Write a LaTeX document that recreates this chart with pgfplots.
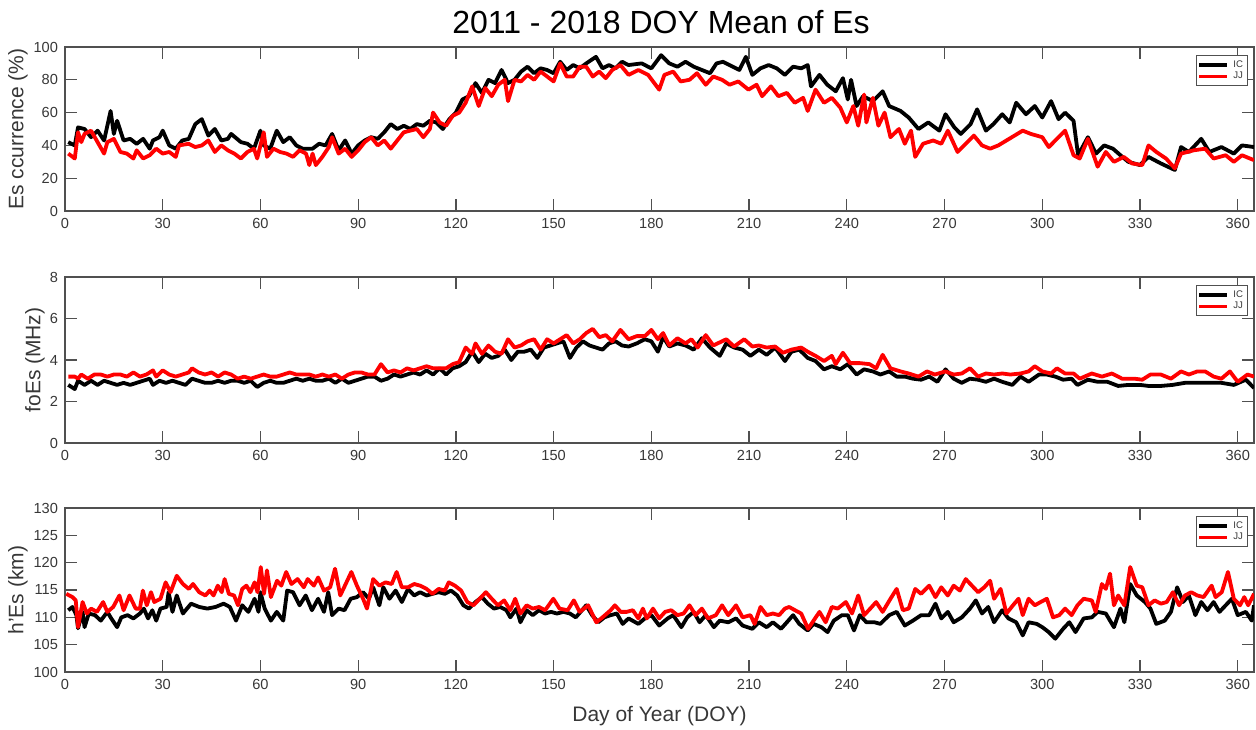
\documentclass[border=0pt]{standalone}
\usepackage{fontspec}
\setmainfont{Liberation Sans}
\usepackage{pgfplots}
\pgfplotsset{compat=1.18}
\definecolor{axgray}{RGB}{80,80,80}
\definecolor{txgray}{RGB}{55,55,55}
\pgfplotsset{
  esaxis/.style={
    scale only axis,
    width=594.5pt,
    xmin=0, xmax=365,
    xtick={0,30,...,360},
    tick align=inside,
    tick pos=both,
    major tick length=6pt,
    axis line style={axgray, line width=0.6pt},
    every tick/.style={axgray, line width=0.6pt},
    tick label style={font=\fontsize{7.3}{8}\selectfont, text=txgray},
    /pgf/number format/assume math mode=true,
    /pgf/number format/1000 sep={},
    label style={font=\fontsize{10.5}{12}\selectfont, text=txgray},
    legend style={at={(rel axis cs:0.995,0.95)}, anchor=north east,
      font=\fontsize{4.8}{5}\selectfont, draw=axgray, line width=0.5pt,
      inner sep=0.3pt, row sep=-3.2pt, text=txgray},
    legend cell align=left,
    legend image code/.code={\draw[#1, line width=1.9pt] (0pt,0pt) -- (14pt,0pt);},
    every axis plot/.append style={line width=1.9pt, line join=round},
  }
}
\begin{document}
\begin{tikzpicture}
\path[use as bounding box] (0,0) rectangle (628pt,-364.5pt);
\node[font=\fontsize{16}{18}\selectfont, anchor=center] at (330.5pt,-11pt) {2011 - 2018 DOY Mean of Es};
% ---------------- Panel 1 ----------------
\begin{axis}[esaxis, at={(32.5pt,-23.5pt)}, anchor=north west, height=82pt,
  ymin=0, ymax=100, ytick={0,20,...,100},
  ylabel={Es ccurrence (\%)},
  ylabel style={at={(rel axis cs:-0.0395,0.5)}, anchor=center}]
\addplot[black] coordinates {(1,42)(3,40)(4,51)(6,50)(8,45)(10,49)(12,43)(14,61)(15,47)(16,55)(18,43)(20,44)(22,41)(24,44)(26,38)(27,43)(29,45)(30,49)(32,40)(34,38)(36,43)(38,44)(40,53)(42,56)(44,46)(46,50)(48,43)(50,44)(51,47)(54,42)(56,41)(58,38)(60,49)(61,40)(63,38)(65,49)(67,42)(69,45)(71,40)(73,38)(76,38)(78,41)(80,40)(82,47)(84,37)(86,43)(88,35)(90,40)(92,43)(94,45)(96,44)(98,48)(100,53)(102,50)(104,52)(106,50)(108,53)(110,52)(112,55)(114,54)(116,50)(118,56)(120,60)(122,68)(124,70)(126,78)(128,72)(130,80)(132,78)(134,86)(136,78)(138,80)(140,85)(142,88)(144,84)(146,87)(148,86)(150,84)(152,91)(154,86)(156,89)(158,87)(160,90)(163,94)(165,87)(167,89)(169,87)(171,91)(173,89)(177,90)(180,87)(183,95)(185.5,90)(188,88)(190.5,91)(193,88)(195.5,86)(198,84)(200,90)(202,91)(204,89)(207,86)(209,94)(211,83)(213.5,87)(216,89)(218.5,87)(221,83)(223.5,88)(226,87)(228,89)(229,76)(231.6,83)(234,77)(236.6,73)(238.8,81)(240.3,68)(241.3,80)(243,64)(245,70)(248,67)(251,73)(253,64)(256.5,61)(259,57)(262,50)(265,54)(268.4,49)(270.3,59)(273,51)(275,47)(278,53)(280,62)(282.7,49)(285,53)(287.7,59)(290,54)(292,66)(295,59)(297.7,64)(300,57)(302.7,67)(305,56)(307,60)(309.6,55)(311,34)(314,45)(316.5,35)(319,40)(321.7,38)(324,34)(326.4,30)(330,28)(332.6,33)(336.4,29)(340.7,25)(342.6,39)(345,36)(348.8,44)(351.3,36)(355,39)(358.8,35)(361.3,40)(365,39)};
\addplot[red] coordinates {(1,35)(3,32)(4,48)(5,42)(6,47)(8,49)(10,42)(12,35)(13,42)(15,44)(17,36)(19,35)(21,32)(22,37)(24,32)(26,34)(28,38)(30,35)(32,36)(34,33)(35,40)(38,41)(40,39)(42,40)(44,43)(46,36)(48,40)(50,37)(52,35)(54,32)(56,36)(58,38)(59,32)(61,48)(62,33)(64,38)(66,36)(68,35)(70,33)(72,37)(74,35)(75,28)(76,35)(77,28)(79,33)(81,39)(82,45)(84,35)(86,38)(88,33)(90,37)(92,42)(94,45)(96,40)(98,43)(100,38)(102,43)(104,48)(106,49)(108,50)(110,45)(112,50)(113,60)(115,54)(117,52)(119,58)(121,60)(123,66)(125,76)(127,64)(129,75)(131,70)(133,77)(135,80)(136,67)(138,80)(140,79)(142,83)(144,80)(146,85)(148,82)(150,79)(152,90)(154,82)(156,82)(158,88)(160,88)(162,82)(164,85)(166,81)(168,86)(170.5,89)(173,83)(176,86)(179,83)(182.4,74)(184,83)(186.7,85)(189,79)(191.7,80)(194,84)(196.7,77)(199,82)(201.7,80)(204,77)(206.7,79)(209.8,74)(212.3,77)(214,70)(216.7,76)(219,70)(221.6,72)(224,66)(226.6,69)(228,61)(230.4,74)(233,66)(235.4,69)(238,63)(240,54)(242,64)(243.5,52)(245.3,71)(246,54)(248,69)(249.7,52)(251.6,60)(253.4,45)(256,50)(257.8,41)(259.7,49)(261,33)(263.4,41)(266.5,43)(269,41)(271,49)(274,36)(277,42)(279,46)(281.5,40)(284,38)(286.5,40)(289,43)(291.5,46)(294,49)(296.5,47)(300,45)(302,39)(304.5,44)(307,49)(309.6,34)(311.5,32)(314,44)(317,27)(319.5,36)(322,30)(325,33)(327.6,29)(330.7,28)(332.6,40)(335,36)(338,32)(340.7,26)(342.6,35)(346.5,37)(350,38)(352.6,32)(356.3,34)(358.8,30)(361.3,34)(365,31)};
\legend{IC,JJ}
\end{axis}
% ---------------- Panel 2 ----------------
\begin{axis}[esaxis, at={(32.5pt,-138.5pt)}, anchor=north west, height=83pt,
  ymin=0, ymax=8, ytick={0,2,...,8},
  ylabel={foEs (MHz)},
  ylabel style={at={(rel axis cs:-0.0252,0.5)}, anchor=center}]
\addplot[black] coordinates {(1,2.8)(3,2.6)(4,3.0)(6,2.8)(8,3.0)(10,2.8)(12,3.0)(14,2.9)(16,2.8)(18,2.9)(20,2.8)(22,2.9)(24,3.0)(26,3.1)(27,2.8)(29,3.0)(31,2.9)(33,3.0)(35,2.9)(37,2.8)(39,3.1)(41,3.0)(43,2.9)(45,2.9)(47,3.0)(49,2.9)(51,3.0)(53,3.0)(55,2.9)(57,3.0)(59,2.7)(61,2.9)(63,3.0)(65,2.9)(67,2.9)(69,3.0)(71,3.1)(73,3.0)(75,3.1)(77,3.0)(79,3.0)(81,3.1)(83,2.9)(85,3.1)(87,2.9)(89,3.0)(91,3.1)(93,3.2)(95,3.2)(97,3.0)(99,3.1)(101,3.3)(103,3.2)(105,3.3)(107,3.4)(109,3.3)(111,3.5)(113,3.3)(115,3.6)(117,3.3)(119,3.6)(121,3.7)(123,3.9)(125,4.4)(127,3.9)(129,4.3)(131,4.1)(133,4.2)(135,4.5)(137,4.0)(139,4.4)(141,4.4)(143,4.5)(145,4.1)(147,4.6)(149,4.7)(151,4.8)(153,4.9)(155,4.1)(157,4.6)(159,4.9)(161,4.7)(163,4.6)(165,4.5)(167,4.8)(169,4.9)(171,4.7)(173,4.65)(175.5,4.8)(178,5.0)(180,4.9)(182,4.4)(183.6,5.1)(185.5,4.65)(188,4.8)(190.5,4.7)(193,4.5)(195.5,5.05)(198,4.6)(201,4.2)(203,4.8)(205.4,4.6)(208,4.5)(210.4,4.2)(213,4.5)(215.4,4.25)(218,4.6)(221,3.95)(223,4.4)(225.4,4.5)(228,4.1)(230.4,3.95)(233,3.55)(235.4,3.7)(238,3.55)(240.3,3.8)(243,3.3)(245.3,3.55)(248,3.45)(250.3,3.3)(253,3.45)(255.3,3.2)(257.8,3.2)(260.3,3.1)(262.8,3.05)(265.3,3.2)(267.8,2.95)(270.3,3.55)(272.8,3.1)(275.3,2.9)(277.8,3.1)(280.3,3.05)(282.7,2.95)(285.2,3.1)(287.7,2.95)(290.8,2.8)(293.3,3.2)(295.8,2.95)(299,3.3)(301.4,3.3)(304,3.2)(306.4,3.05)(309,3.1)(310.8,2.8)(314,3.05)(317,2.95)(320,2.95)(323.3,2.75)(326.4,2.8)(330,2.8)(332.6,2.75)(336.4,2.75)(340,2.8)(343.8,2.9)(347.6,2.9)(351.3,2.9)(355,2.9)(358.8,2.8)(362.5,3.05)(365,2.65)};
\addplot[red] coordinates {(1,3.2)(3,3.2)(4,3.1)(5,3.3)(7,3.1)(9,3.3)(11,3.3)(13,3.2)(15,3.3)(17,3.3)(19,3.2)(21,3.4)(23,3.2)(25,3.3)(27,3.5)(28,3.2)(30,3.5)(32,3.3)(34,3.2)(36,3.3)(38,3.4)(39,3.6)(41,3.4)(43,3.3)(45,3.4)(47,3.2)(49,3.4)(51,3.3)(53,3.1)(55,3.2)(57,3.1)(59,3.2)(61,3.3)(63,3.2)(65,3.2)(67,3.3)(69,3.4)(71,3.3)(73,3.3)(75,3.3)(77,3.2)(79,3.3)(81,3.2)(83,3.3)(85,3.1)(87,3.3)(89,3.4)(91,3.4)(93,3.3)(95,3.3)(97,3.8)(99,3.4)(101,3.5)(103,3.4)(105,3.6)(107,3.5)(109,3.6)(111,3.7)(113,3.6)(115,3.6)(117,3.6)(119,3.8)(121,3.9)(123,4.6)(125,4.3)(126,4.8)(128,4.3)(130,4.7)(132,4.4)(134,4.3)(136,5.0)(138,4.6)(140,4.7)(142,4.9)(144,5.0)(146,4.5)(148,5.0)(150,4.8)(152,5.0)(154,5.2)(156,4.8)(158,5.0)(160,5.3)(162,5.5)(164,5.1)(166,5.2)(168,4.9)(170.5,5.45)(173,5.0)(175.5,5.15)(178,5.15)(180,5.45)(182,5.0)(183.6,5.3)(185.5,4.7)(188,5.05)(190.5,4.8)(192.3,5.0)(194.2,4.6)(196.7,5.2)(199,4.7)(203,5.0)(205.4,4.65)(208.5,5.0)(211,4.65)(213,4.7)(215.4,4.6)(218,4.65)(220.4,4.35)(223,4.5)(226,4.6)(228,4.4)(230.4,4.2)(233,3.95)(235.4,4.2)(236.6,3.8)(238.8,4.35)(241,3.85)(244,3.85)(247,3.8)(249,3.6)(251,4.25)(253.4,3.6)(256.5,3.45)(259,3.35)(262,3.2)(264.6,3.45)(267,3.3)(270.3,3.45)(272.8,3.3)(275.3,3.35)(277.8,3.6)(280.3,3.2)(282.7,3.35)(285.2,3.3)(287.7,3.35)(290.2,3.3)(293.3,3.35)(295.8,3.45)(297.7,3.7)(300,3.45)(302.7,3.35)(304.5,3.6)(307,3.35)(309.6,3.35)(311.5,3.1)(315.2,3.35)(318.3,3.2)(321.4,3.35)(324.5,3.1)(328.3,3.1)(330.7,3.05)(333.2,3.3)(336.4,3.3)(339.5,3.1)(342.6,3.45)(345,3.3)(347.6,3.45)(350,3.45)(352.6,3.2)(355,3.1)(357.6,3.45)(360,2.95)(363,3.3)(365,3.2)};
\legend{IC,JJ}
\end{axis}
% ---------------- Panel 3 ----------------
\begin{axis}[esaxis, at={(32.5pt,-254pt)}, anchor=north west, height=82pt,
  ymin=100, ymax=130, ytick={100,105,...,130},
  ylabel={h'Es (km)},
  ylabel style={at={(rel axis cs:-0.0395,0.5)}, anchor=center},
  xlabel={Day of Year (DOY)},
  xlabel style={at={(rel axis cs:0.5,0)}, anchor=center, yshift=-22pt}]
\addplot[black] coordinates {(1,111.3)(2.3,111.9)(3.5,110.4)(4,108)(5.4,111)(6,108.2)(7.3,110.7)(9.2,110.4)(11,109.4)(13,111)(14.2,109.8)(16,108.2)(17.3,110)(19.2,110.4)(21,109.8)(23,110.7)(24.2,111.6)(25.5,109.8)(26.8,111.3)(28,109.4)(29.3,111.6)(31.2,111.9)(31.8,114.6)(33,111)(34.3,114)(36.2,110.7)(38.7,112.5)(41.2,111.9)(43.7,111.6)(46.2,111.9)(48.7,112.5)(50.6,111.9)(52.5,109.4)(54.4,112.2)(56.3,111)(58.2,113.4)(59.4,111)(60,114.6)(61.3,111.6)(63.2,109.4)(65,111)(67,109.4)(68.2,114.9)(70,114.6)(72,112.2)(73.9,114)(75.8,111.3)(77.7,113.4)(79.5,111)(80.8,114.6)(82,110.4)(84,111.6)(85.8,111.3)(87.7,113.4)(89.6,113.7)(91.5,114.6)(93.3,113.4)(94.6,115.5)(96.5,112.2)(97.7,115.5)(99.6,113.4)(101.5,114.9)(103.4,112.8)(105.3,115.2)(107.2,114)(109,114.6)(111,114)(112.8,114.3)(114.7,114.6)(116.6,114.3)(118.5,114.9)(120.4,114)(122.3,112.2)(124,111.6)(126,112.8)(128,113.7)(129.8,112.5)(131.7,111.6)(133.6,111.9)(135.5,111.3)(136.7,110)(138.6,111.6)(139.8,109.1)(141.7,111.3)(143.6,110.4)(145.5,111.3)(147.4,110.7)(149.2,111)(151,110.7)(153,111)(155,110.7)(156.8,110)(158.7,111.3)(160,112.2)(161.8,110.4)(163.7,109.1)(165.6,110)(167.5,110.4)(169.4,110.7)(171.2,108.8)(173,109.8)(176,108.8)(178,109.8)(180,110.4)(182.4,108.5)(185,109.8)(186.7,110.4)(189.2,108.2)(191,110)(193,111)(194.8,109.1)(196.7,110.4)(199.2,108.2)(201,109.4)(203.6,109.1)(206,109.8)(208,108.5)(211,107.9)(213,109.1)(215.4,108.2)(217.3,109.1)(219.8,107.9)(221.6,109.1)(223.5,110.4)(225.4,108.8)(228,107.6)(229.8,108.8)(232.2,108.2)(234.1,107.3)(236,109.4)(238.5,110.4)(240.3,110.4)(242.2,107.6)(244,110.4)(246,109.1)(248.5,109.1)(250.3,108.8)(253,110.4)(255.3,111)(257.8,108.5)(260.3,109.4)(262.8,110.4)(265.3,110.4)(267.2,112.5)(269,109.8)(271,111)(272.8,109.1)(275.3,110)(277.8,111.6)(279.6,113.1)(281.5,110.7)(283.4,111.9)(285.2,109.1)(287.7,111.3)(289.6,109.8)(292,109.1)(294,106.7)(295.8,109.1)(298.3,108.8)(300,108.2)(302,107.3)(304,106.1)(306.4,107.9)(308.3,109.1)(310.2,107.3)(312.7,109.8)(315.2,110)(317,111)(319.5,110.7)(322,108.2)(324,111.6)(325.2,109.1)(327,116.1)(329,114)(331.5,112.8)(333.2,111.6)(335,108.8)(337.6,109.4)(339.5,111)(341.4,115.5)(343.2,112.8)(345,114)(347,110.4)(348.8,112.8)(350.7,111.3)(352.6,112.8)(354.4,111)(356.3,112.2)(358.2,113.4)(360,110.4)(362.5,111)(364.3,109.4)(365,112.2)};
\addplot[red] coordinates {(0.4,114.3)(2.3,113.7)(3.3,113.1)(4,108.2)(5.4,112.8)(6.7,110.7)(8,111.6)(9.8,111)(11.7,112.8)(13,111)(14.8,111.9)(16.7,114)(18,111.3)(19.8,114)(21.7,111.6)(23,111.6)(23.9,114.9)(25.1,112.2)(26.4,114.6)(27.4,112.8)(29.3,113.4)(30.9,116.4)(32.4,114.6)(34.3,117.6)(36.2,116.1)(38,115.2)(39.3,116.1)(41.2,114.6)(43.1,114)(44.4,114.9)(45.6,114)(46.9,115.8)(48.1,114.6)(49,117)(50.3,114.3)(51.9,114)(53.1,112.2)(54.4,115.2)(55.7,115.8)(56.9,114.6)(58.2,116.4)(59.1,114.6)(60.1,119.2)(61.1,114.3)(62,118.6)(63.2,113.7)(65.1,116.7)(66.4,115.8)(67.9,118.3)(69.5,116.1)(71.4,117)(73.3,115.5)(74.5,117)(76.4,115.8)(77.7,117.3)(79.5,114.9)(81.4,115.5)(82.9,118.9)(84.5,114)(86.4,116.4)(87.9,118.3)(89.6,115.8)(91.5,113.4)(92.7,111.6)(94.6,117)(96.5,115.8)(98.4,116.4)(100.3,116.1)(101.8,118.3)(103.4,115.5)(105.3,115.5)(107.2,116.1)(109,115.8)(111,115.2)(112.8,114.3)(114.7,115.2)(116.6,114.9)(117.8,116.4)(119.7,115.8)(121.6,114.9)(123.5,112.8)(125.4,112.2)(127.3,113.4)(129.2,114.6)(131,113.4)(132.9,112.2)(134.8,113.1)(136.7,111.3)(138.2,113.4)(139.8,110.7)(141.7,112.2)(143.6,111.6)(145.5,111.9)(147.4,111.3)(149.9,113.4)(151.8,111.6)(154.3,111.3)(156.2,113.1)(158,111)(160.6,112.2)(163.1,109.1)(165,110)(167.5,111.3)(168.8,112.2)(170.6,111)(172.4,111)(174.3,111.3)(176,109.8)(177.4,111.6)(178.6,109.8)(180.5,111.6)(182.4,109.8)(184.2,111)(186.1,111.3)(188,110.4)(189.9,110.7)(191.7,112.2)(193.6,110.4)(195.5,111.6)(197.4,109.8)(199.8,110.4)(201.7,112.2)(203.6,110.4)(206,112.2)(208,110)(210.4,110.4)(211.7,108.8)(213.5,111.9)(215.4,110.4)(217.3,110.7)(219.2,110.4)(221,111.6)(222.3,111.9)(224.1,111.3)(226,110.7)(228.1,107.9)(229.8,109.4)(231.6,111)(233.5,109.1)(235.4,111.9)(237.2,111.6)(239.7,112.8)(241.6,110.7)(243.5,114)(245.3,110.4)(247.2,111.6)(249,112.8)(251,111)(253.4,113.4)(255.3,115.2)(257.2,111.3)(259,111.6)(261,115.2)(262.8,114.3)(265.3,115.8)(267.2,113.7)(269,115.5)(271,114)(272.8,115.8)(274.7,114.9)(276.5,117)(278.4,115.8)(280.3,114.6)(282.2,115.5)(284,116.7)(285.2,113.4)(287.2,115.2)(289,110.7)(291,112.2)(292.7,113.4)(294,110.4)(295.8,113.4)(297.7,112.2)(299.5,112.8)(301.4,113.4)(303.3,110)(305.2,110.4)(307,111.6)(309,110.4)(310.8,112.2)(312.7,113.4)(315.2,113.1)(316.4,111)(318.3,116.1)(319.5,115.2)(320.8,118)(322,112.2)(323.3,114)(325.2,112.2)(327,119.2)(329,115.8)(330.7,115.5)(332.6,112.2)(334.5,113.1)(336.4,112.5)(338.2,112.8)(340.1,114.6)(342,112.2)(343.8,114)(345.7,114.6)(347.6,114)(349.5,113.7)(352,115.8)(353.2,113.7)(355.1,114.6)(357,118.3)(358.8,113.4)(360.7,112.2)(362,113.7)(363.2,112.2)(365,114.3)};
\legend{IC,JJ}
\end{axis}
\end{tikzpicture}
\end{document}
